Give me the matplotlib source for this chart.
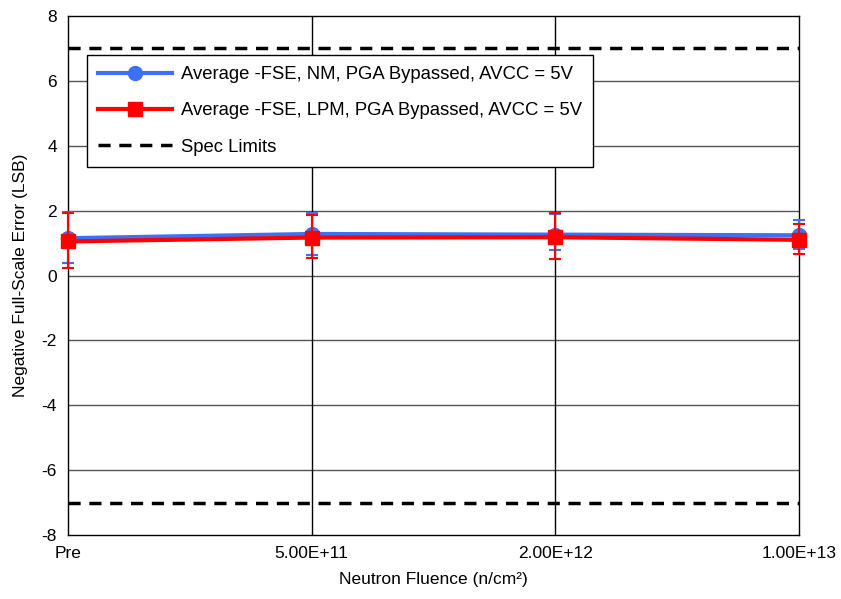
import matplotlib.pyplot as plt
from matplotlib.lines import Line2D

plt.rcParams['font.family'] = ['Liberation Sans', 'DejaVu Sans']
plt.rcParams['axes.unicode_minus'] = False

categories = ["Pre", "5.00E+11", "2.00E+12", "1.00E+13"]

nm_avg = [1.15, 1.28, 1.26, 1.24]
nm_low = [0.40, 0.63, 0.79, 0.82]
nm_high = [1.95, 1.92, 1.90, 1.71]

lpm_avg = [1.05, 1.17, 1.18, 1.10]
lpm_low = [0.24, 0.55, 0.51, 0.65]
lpm_high = [1.94, 1.87, 1.94, 1.59]

spec_limit = 7

NM_COLOR = "#3e6ff5"
LPM_COLOR = "#ff0000"
DASH = (0, (3.5, 2.5))

x = list(range(len(categories)))

fig = plt.figure(figsize=(8.41, 5.99), dpi=100)
ax = fig.add_axes([68 / 841, 1 - 535 / 599, (799 - 68) / 841, (535 - 16) / 599])

nm_err = [[a - l for a, l in zip(nm_avg, nm_low)], [h - a for a, h in zip(nm_avg, nm_high)]]
lpm_err = [[a - l for a, l in zip(lpm_avg, lpm_low)], [h - a for a, h in zip(lpm_avg, lpm_high)]]

ax.errorbar(x, nm_avg, yerr=nm_err, color=NM_COLOR, marker="o", markersize=10,
            linewidth=3, elinewidth=1.5, capsize=4, capthick=1.5, zorder=4, clip_on=False)
ax.errorbar(x, lpm_avg, yerr=lpm_err, color=LPM_COLOR, marker="s", markersize=10,
            linewidth=3, elinewidth=1.5, capsize=4, capthick=1.5, zorder=5, clip_on=False)
ax.axhline(spec_limit, color="black", linestyle=DASH, linewidth=2.5, zorder=3)
ax.axhline(-spec_limit, color="black", linestyle=DASH, linewidth=2.5, zorder=3)

ax.set_xlim(0, len(categories) - 1)
ax.set_ylim(-8, 8)
ax.set_yticks(range(-8, 9, 2))
ax.set_xticks(x)
ax.set_xticklabels(categories)
ax.tick_params(axis="both", labelsize=12.5, length=0, pad=8)

for yv in range(-6, 8, 2):
    ax.axhline(yv, color="#555555", linewidth=1, zorder=1)
for xv in x[1:-1]:
    ax.axvline(xv, color="black", linewidth=1, zorder=1)
for spine in ax.spines.values():
    spine.set_color("black")
    spine.set_linewidth(1)

ax.set_xlabel("Neutron Fluence (n/cm²)", fontsize=12.5, labelpad=8)
ax.set_ylabel("Negative Full-Scale Error (LSB)", fontsize=12.5, labelpad=10)

handles = [
    Line2D([], [], color=NM_COLOR, marker="o", markersize=10, linewidth=3),
    Line2D([], [], color=LPM_COLOR, marker="s", markersize=10, linewidth=3),
    Line2D([], [], color="black", linestyle=DASH, linewidth=2.5),
]
labels = [
    "Average -FSE, NM, PGA Bypassed, AVCC = 5V",
    "Average -FSE, LPM, PGA Bypassed, AVCC = 5V",
    "Spec Limits",
]
leg = ax.legend(handles, labels, loc="upper left", bbox_to_anchor=(19 / 731, 1 - 39 / 519),
                borderaxespad=0, fontsize=13.3, frameon=True, fancybox=False,
                edgecolor="black", framealpha=1, borderpad=0.6, labelspacing=1.05,
                handlelength=4.0, handletextpad=0.5)
leg.get_frame().set_linewidth(1)
leg.set_zorder(10)

fig.savefig("out.png", dpi=100)
